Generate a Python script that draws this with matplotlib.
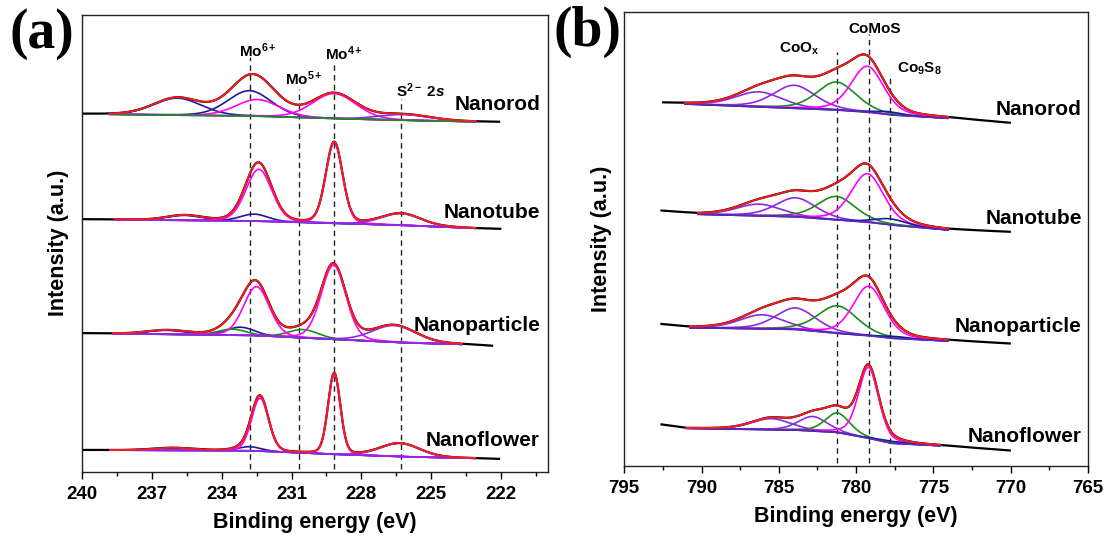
import numpy as np
import matplotlib
matplotlib.use('Agg')
import matplotlib.pyplot as plt
from matplotlib.ticker import MultipleLocator
from matplotlib.transforms import blended_transform_factory

plt.rcParams['font.family'] = ['Liberation Sans', 'DejaVu Sans']
plt.rcParams['font.weight'] = 'bold'
plt.rcParams['mathtext.fontset'] = 'custom'
plt.rcParams['mathtext.rm'] = 'Liberation Sans:bold'
plt.rcParams['mathtext.it'] = 'Liberation Sans:bold:italic'
plt.rcParams['mathtext.bf'] = 'Liberation Sans:bold'

samples = ['Nanorod', 'Nanotube', 'Nanoparticle', 'Nanoflower']

# ---------------- panel (a): Mo 3d ----------------
# background knots (binding energy, intensity); first/last knots = ends of raw data
mo_bkg_e = [
    [240.0, 232.78, 229.06, 226.2, 223.12, 222.1],
    [240.0, 232.78, 229.06, 226.2, 223.12, 222.05],
    [240.0, 232.78, 229.2, 226.2, 223.7, 222.4],
    [240.0, 232.78, 229.17, 226.2, 223.12, 222.1],
]
mo_bkg_i = [
    [357.7, 355.7, 353.0, 351.4, 350.0, 349.7],
    [252.4, 250.7, 248.4, 246.4, 243.4, 242.7],
    [138.4, 136.4, 132.4, 129.0, 127.4, 125.7],
    [21.7, 21.0, 17.4, 15.0, 13.4, 12.7],
]
mo_fit_range = [(238.8, 223.1), (238.57, 223.12), (238.64, 223.69), (238.78, 223.12)]
# fitted components: (centre eV, height, FWHM eV, species)
mo_peaks = [
    [(235.9, 17.0, 2.4, 'Mo6+'), (232.8, 25.3, 2.2, 'Mo6+'),
     (232.45, 16.7, 2.2, 'Mo4+'), (229.17, 25.0, 2.2, 'Mo4+'),
     (226.2, 5.7, 2.6, 'S2s')],
    [(235.6, 5.0, 1.8, 'Mo6+'), (232.6, 7.0, 1.4, 'Mo6+'),
     (232.4, 52.0, 1.3, 'Mo4+'), (229.17, 81.0, 0.85, 'Mo4+'),
     (226.3, 11.7, 2.0, 'S2s')],
    [(236.35, 4.0, 2.0, 'Mo6+'), (233.2, 8.0, 1.4, 'Mo6+'),
     (233.55, 6.0, 1.4, 'Mo5+'), (230.5, 8.3, 1.5, 'Mo5+'),
     (232.5, 49.0, 1.3, 'Mo4+'), (229.2, 74.0, 1.25, 'Mo4+'),
     (226.6, 16.7, 2.2, 'S2s')],
    [(236.1, 2.5, 2.0, 'Mo6+'), (232.8, 4.0, 1.2, 'Mo6+'),
     (232.35, 53.0, 0.85, 'Mo4+'), (229.17, 81.0, 0.62, 'Mo4+'),
     (226.35, 13.3, 2.0, 'S2s')],
]
mo_lines = [232.8, 230.7, 229.17, 226.3]
mo_line_tops = [415, 383, 410, 373]
mo_labels = ['Mo$^{6+}$', 'Mo$^{5+}$', 'Mo$^{4+}$', 'S$^{2-}$ 2$\\mathit{s}$']
mo_label_e = [232.45, 230.45, 228.75, 225.45]
mo_label_y = [421, 393, 418, 381]
mo_name_y = [367, 259, 146, 31]

# ---------------- panel (b): Co 2p3/2 ----------------
co_bkg_e = [
    [792.48, 791.08, 786.55, 781.23, 779.18, 777.72, 774.05, 770.06],
    [792.59, 790.22, 783.97, 781.23, 779.18, 777.72, 774.05, 770.06],
    [792.59, 790.75, 783.97, 781.23, 779.18, 777.72, 774.05, 770.06],
    [792.59, 790.97, 783.97, 781.23, 779.18, 777.72, 774.59, 770.06],
]
co_bkg_i = [
    [362.5, 361.7, 359.0, 355.7, 353.4, 350.7, 347.4, 342.4],
    [254.5, 251.4, 249.0, 245.7, 243.4, 240.7, 235.7, 233.4],
    [141.0, 138.0, 136.4, 132.4, 130.0, 127.4, 124.7, 121.7],
    [41.0, 37.4, 35.7, 33.4, 27.4, 22.4, 20.0, 15.0],
]
co_fit_range = [(791.08, 774.05), (790.22, 774.05), (790.75, 774.05), (790.97, 774.59)]
co_peaks = [
    [(786.3, 15.0, 3.6, 'sat'), (784.0, 23.0, 3.2, 'sat'),
     (781.27, 28.0, 3.0, 'CoOx'), (779.27, 46.0, 2.5, 'CoMoS'),
     (777.9, 3.0, 2.0, 'Co9S8')],
    [(786.3, 11.7, 3.4, 'sat'), (783.9, 19.0, 3.1, 'sat'),
     (781.27, 23.5, 2.9, 'CoOx'), (779.27, 48.5, 2.5, 'CoMoS'),
     (777.8, 6.0, 2.4, 'Co9S8')],
    [(786.1, 14.0, 3.4, 'sat'), (783.9, 21.5, 3.1, 'sat'),
     (781.2, 27.5, 3.0, 'CoOx'), (779.18, 49.5, 2.4, 'CoMoS'),
     (777.5, 2.0, 2.0, 'Co9S8')],
    [(785.5, 11.0, 3.0, 'sat'), (782.8, 14.5, 2.2, 'sat'),
     (781.2, 19.5, 1.9, 'CoOx'), (779.2, 71.0, 1.55, 'CoMoS'),
     (777.8, 2.0, 2.0, 'Co9S8')],
]
co_lines = [781.23, 779.18, 777.78]
co_line_tops = [414, 432, 392]
co_labels = ['CoO$_{\\mathrm{x}}$', 'CoMoS', 'Co$_{9}$S$_{8}$']
co_label_e = [783.7, 778.8, 775.9]
co_label_y = [417, 437, 397]
co_name_y = [356, 247, 139, 29]

species_colour = {
    'Mo6+': '#1a1aa0', 'Mo4+': '#ff00ff', 'Mo5+': '#159015', 'S2s': '#8a2be2',
    'sat': '#8a2be2', 'CoOx': '#159015', 'CoMoS': '#ff00ff', 'Co9S8': '#1a1aa0',
}


def pv(e, c, h, w, eta):
    x = (e - c) / w
    return h * ((1 - eta) * np.exp(-4 * np.log(2) * x ** 2) + eta / (1 + 4 * x ** 2))


def draw_panel(ax, bkg_e, bkg_i, fit_range, peaks, bkg_colours, eta):
    for k in range(len(samples)):
        xp = np.array(bkg_e[k])[::-1]
        fp = np.array(bkg_i[k])[::-1]
        e_all = np.linspace(bkg_e[k][0], bkg_e[k][-1], 900)
        total_all = np.interp(e_all, xp, fp)
        for c, h, w, sp in peaks[k]:
            total_all = total_all + pv(e_all, c, h, w, eta)
        ax.plot(e_all, total_all, color='black', lw=1.6, zorder=2)

        e_fit = np.linspace(fit_range[k][0], fit_range[k][1], 700)
        base = np.interp(e_fit, xp, fp)
        total = base.copy()
        for c, h, w, sp in peaks[k]:
            comp = pv(e_fit, c, h, w, eta)
            total = total + comp
            ax.plot(e_fit, base + comp, color=species_colour[sp], lw=1.2, zorder=3)
        ax.plot(e_fit, base, color=bkg_colours[k], lw=1.2, zorder=3)
        ax.plot(e_fit, total, color='#ff1a1a', lw=1.3, zorder=4)


def style_axis(ax, major, minor):
    ax.xaxis.set_major_locator(MultipleLocator(major))
    ax.xaxis.set_minor_locator(MultipleLocator(minor))
    ax.set_yticks([])
    ax.tick_params(axis='x', which='major', direction='out', length=5, width=1,
                   pad=5, labelsize=13.5)
    ax.tick_params(axis='x', which='minor', direction='out', length=3, width=1)
    for s in ax.spines.values():
        s.set_linewidth(1.0)
        s.set_color('#222222')
    ax.set_xlabel('Binding energy (eV)', fontsize=15.5, fontweight='bold', labelpad=7)
    ax.text(-0.05, 0.5, 'Intensity (a.u.)', transform=ax.transAxes, rotation=90,
            ha='center', va='center', fontsize=15.5, fontweight='bold')


fig = plt.figure(figsize=(11.08, 5.44), dpi=100)
ax1 = fig.add_axes([0.0737, 0.1329, 0.4209, 0.8401])
ax2 = fig.add_axes([0.5634, 0.1439, 0.4185, 0.8335])

# panel (a)
draw_panel(ax1, mo_bkg_e, mo_bkg_i, mo_fit_range, mo_peaks,
           ['#159015', '#8a2be2', '#8a2be2', '#8a2be2'], 0.15)
for e, top in zip(mo_lines, mo_line_tops):
    ax1.plot([e, e], [3, top], ls=(0, (4, 3)), color='#222222', lw=1.0, zorder=1)
for lab, e, y in zip(mo_labels, mo_label_e, mo_label_y):
    ax1.text(e, y, lab, ha='center', va='center', fontsize=11)
tr1 = blended_transform_factory(ax1.transAxes, ax1.transData)
for name, y in zip(samples, mo_name_y):
    ax1.text(0.983, y, name, transform=tr1, ha='right', va='center', fontsize=15)
ax1.set_xlim(240, 220)
ax1.set_ylim(0, 457)
style_axis(ax1, 3, 1.5)

# panel (b)
draw_panel(ax2, co_bkg_e, co_bkg_i, co_fit_range, co_peaks,
           ['#5a2ab8', '#5a2ab8', '#5a2ab8', '#5a2ab8'], 0.3)
for e, top in zip(co_lines, co_line_tops):
    ax2.plot([e, e], [3, top], ls=(0, (4, 3)), color='#222222', lw=1.0, zorder=1)
for lab, e, y in zip(co_labels, co_label_e, co_label_y):
    ax2.text(e, y, lab, ha='center', va='center', fontsize=11)
tr2 = blended_transform_factory(ax2.transAxes, ax2.transData)
for name, y in zip(samples, co_name_y):
    ax2.text(0.987, y, name, transform=tr2, ha='right', va='center', fontsize=15)
ax2.set_xlim(795, 765)
ax2.set_ylim(0, 453.4)
style_axis(ax2, 5, 2.5)

fig.text(42 / 1108, 1 - 34 / 544, '(a)', family=['Liberation Serif'], fontsize=40,
         fontweight='bold', ha='center', va='center')
fig.text(588 / 1108, 1 - 32 / 544, '(b)', family=['Liberation Serif'], fontsize=40,
         fontweight='bold', ha='center', va='center')

fig.savefig('out.png', dpi=100)
